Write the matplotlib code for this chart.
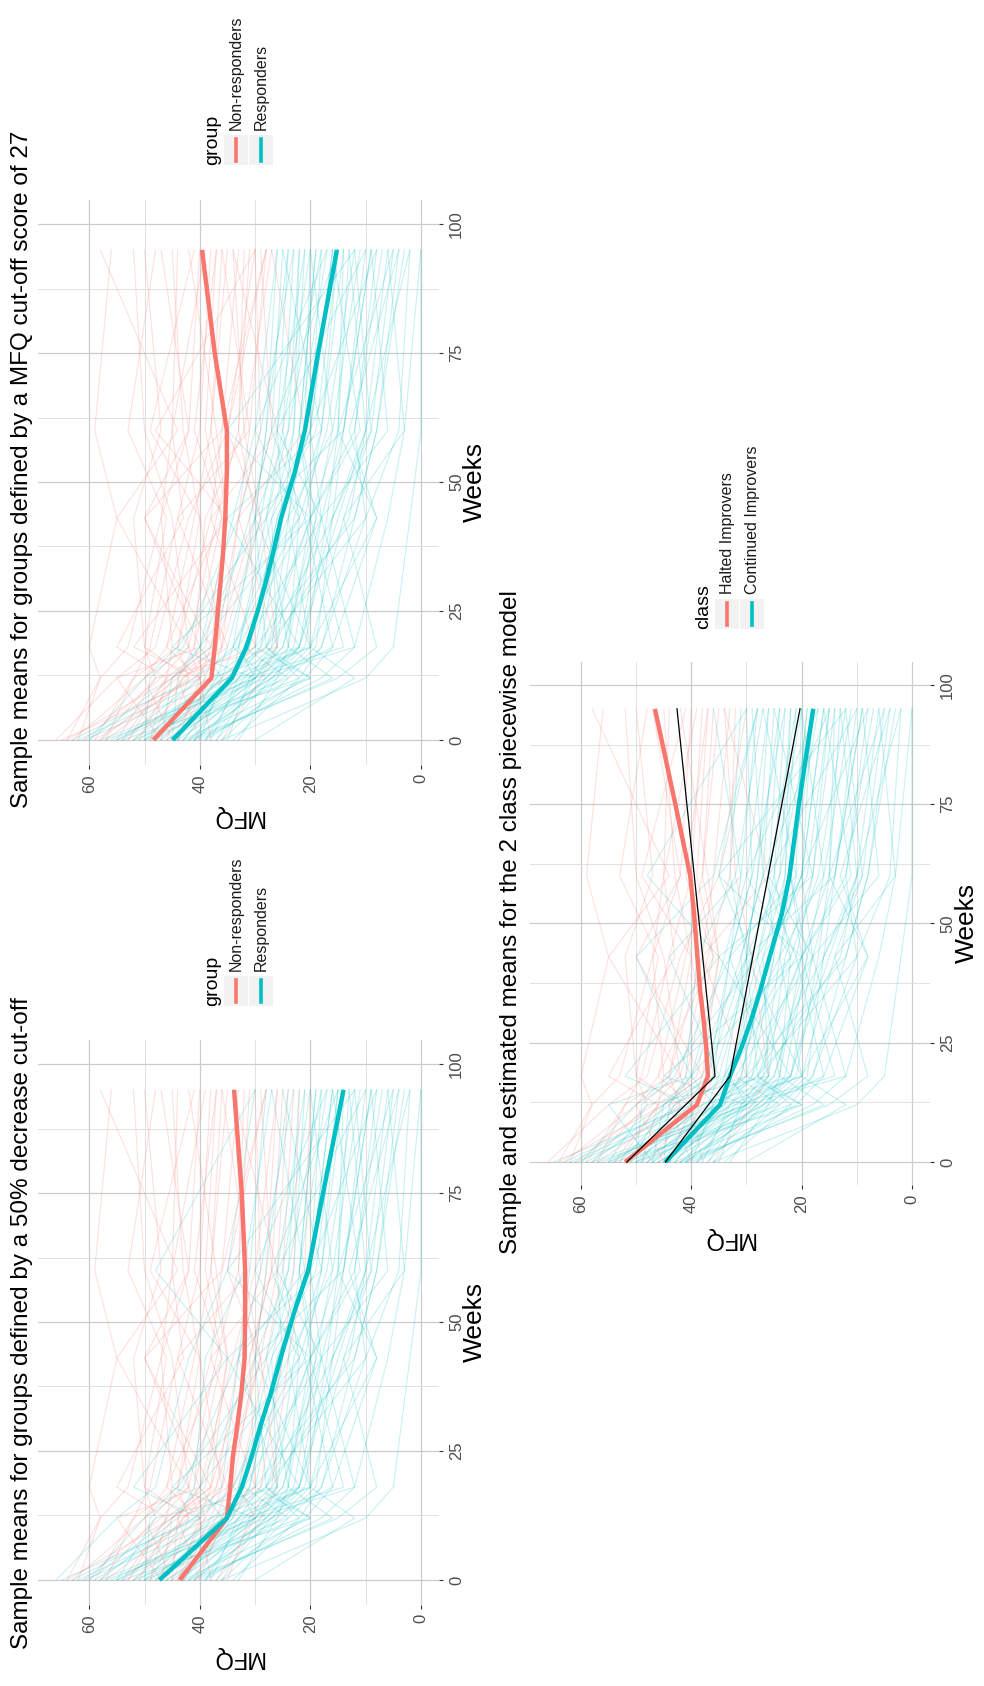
import matplotlib
matplotlib.use("Agg")
import matplotlib.pyplot as plt
from matplotlib.lines import Line2D
from matplotlib.patches import Rectangle

plt.rcParams['font.family'] = ['Liberation Sans', 'DejaVu Sans']

RED = '#F8766D'
TEAL = '#00BFC4'
W, H = 984, 1686

# individual MFQ trajectories, one row per young person, at these weeks
visit_weeks = [0, 12, 18, 43, 60, 95]
subjects = [
    [52, 40, 38, 35, 37, 42], [48, 30, 25, 18, 14, 10], [60, 45, 40, 30, 28, 24],
    [44, 38, 36, 40, 43, 45], [39, 28, 22, 15, 10, 6], [55, 35, 31, 26, 20, 16],
    [46, 42, 44, 38, 36, 33], [41, 26, 20, 24, 22, 19], [63, 50, 46, 41, 38, 35],
    [37, 30, 33, 28, 25, 23], [50, 22, 18, 12, 8, 4], [58, 48, 50, 52, 47, 50],
    [43, 33, 29, 20, 22, 17], [47, 36, 30, 31, 27, 29], [54, 40, 34, 22, 17, 12],
    [36, 24, 18, 10, 12, 8], [45, 44, 40, 34, 30, 26], [62, 38, 30, 25, 26, 21],
    [49, 46, 45, 47, 42, 40], [40, 18, 12, 6, 3, 0], [53, 43, 37, 30, 33, 31],
    [42, 30, 26, 27, 19, 15], [57, 52, 49, 44, 40, 38], [38, 33, 20, 14, 9, 5],
    [51, 35, 28, 30, 24, 22], [46, 27, 21, 17, 15, 13], [66, 55, 48, 42, 35, 30],
    [35, 31, 27, 24, 21, 20], [44, 37, 35, 29, 26, 24], [59, 41, 36, 33, 31, 28],
    [48, 39, 41, 36, 39, 37], [41, 28, 23, 19, 16, 11], [55, 30, 22, 16, 14, 9],
    [47, 45, 38, 31, 27, 25], [39, 21, 16, 21, 18, 14], [61, 47, 42, 37, 33, 32],
    [43, 34, 31, 26, 20, 18], [50, 49, 43, 33, 29, 23], [36, 29, 26, 29, 32, 34],
    [52, 37, 28, 20, 12, 7], [45, 29, 24, 22, 25, 20], [58, 44, 41, 39, 32, 27],
    [40, 36, 34, 30, 28, 26], [47, 33, 27, 13, 10, 2], [64, 58, 53, 47, 45, 44],
    [42, 25, 19, 16, 9, 12], [49, 34, 33, 27, 23, 21], [54, 46, 39, 35, 38, 36],
    [37, 27, 22, 18, 20, 16], [45, 39, 37, 33, 29, 30], [56, 32, 26, 23, 18, 15],
    [33, 26, 24, 20, 15, 14], [60, 50, 44, 28, 24, 18], [44, 40, 42, 45, 50, 52],
    [50, 31, 25, 19, 22, 19], [41, 35, 29, 25, 23, 22],
    [65, 40, 52, 35, 48, 30], [30, 12, 20, 8, 15, 5], [58, 30, 45, 20, 35, 12],
    [47, 55, 40, 50, 36, 28], [62, 58, 60, 55, 59, 56], [54, 20, 28, 10, 4, 2],
    [42, 15, 8, 14, 3, 6], [50, 38, 22, 35, 18, 25], [57, 42, 50, 46, 53, 48],
    [40, 44, 30, 38, 26, 34], [36, 10, 5, 2, 0, 0], [61, 35, 20, 30, 14, 9],
    [45, 50, 42, 55, 44, 58], [52, 24, 32, 18, 26, 10], [48, 36, 40, 22, 30, 17],
    [39, 32, 14, 20, 11, 16], [64, 45, 38, 50, 42, 47], [55, 48, 26, 33, 21, 27],
    [43, 20, 30, 12, 8, 3], [59, 52, 44, 40, 49, 41], [46, 30, 12, 18, 6, 9],
    [34, 22, 28, 16, 10, 13], [53, 46, 55, 43, 45, 39], [41, 16, 24, 28, 20, 8],
    [49, 43, 35, 44, 31, 36], [57, 28, 34, 24, 16, 20], [38, 40, 46, 36, 41, 37],
    [63, 41, 33, 21, 27, 15], [44, 27, 16, 8, 13, 4], [51, 45, 36, 29, 35, 28],
]
# group of each subject: N = non-responder, R = responder / H = halted, C = continued
grp_cut27 = ('NRRNRRNRNRRNRNRRRRNRNRNRRRNRRNNRRRRNRRNRRNRRNRRNRNRRRNRR'
             'NRRNNRRRNNRRNRRRNNRNRRNRNRNRRN')
grp_half = ('NRRNRRNRNNRNRNRRNRNRNRNRRRRNNRNRRNRNRRNRRRNRNRRNRNRRRNRN'
            'RRRNNRRRNNRRNRRRNRRNRRNRNRNRRN')
grp_class = ('HCCHCCHCHCCHCCCCCCHCCCHCCCHCCCHCCCCHCCHCCCCCHCCHCCCCCHCC'
             'CCCCHCCCHHCCHCCCHCCHCCHCCCHCCC')

# sample means
mean_weeks = [0, 12, 18, 24, 30, 36, 43, 52, 60, 75, 95]
cut27_non = [48.4, 37.9, 37.3, 36.8, 36.3, 35.8, 35.4, 35.1, 35.1, 37.3, 39.6]
cut27_resp = [44.9, 34.2, 31.6, 29.8, 28.2, 26.8, 25.3, 22.8, 21.0, 18.6, 15.2]
half_non = [43.6, 35.1, 34.5, 34.0, 33.2, 32.5, 31.9, 31.8, 31.8, 32.4, 33.8]
half_resp = [47.3, 35.1, 32.4, 30.6, 29.0, 27.2, 25.4, 22.9, 20.4, 17.7, 14.0]
cls_halted = [52.0, 39.0, 37.0, 37.3, 37.8, 38.4, 38.9, 39.5, 40.2, 42.9, 46.6]
cls_cont = [44.7, 34.8, 33.0, 30.9, 29.1, 27.5, 25.8, 23.6, 22.2, 20.5, 17.9]
# estimated means of the piecewise model
est_weeks = [0, 18, 95]
est_halted = [51.7, 35.7, 42.6]
est_cont = [44.7, 33.0, 20.3]

titles = ['Sample means for groups defined by a MFQ cut-off score of 27',
          'Sample means for groups defined by a 50% decrease cut-off',
          'Sample and estimated means for the 2 class piecewise model']


def fx(x):
    return x / W


def fy(y):
    return 1 - y / H


fig = plt.figure(figsize=(W / 100, H / 100), dpi=100)


def panel(box, groups, codes, means, est, title, tpos, wpos, mpos, leg, leg_title, leg_labels):
    x0, x1, y0, y1 = box
    ax = fig.add_axes([fx(x0), fy(y1), fx(x1) - fx(x0), fy(y0) - fy(y1)])
    ax.set_xlim(69.3, -3.3)
    ax.set_ylim(-4.75, 104.75)
    for s, g in zip(subjects, groups):
        c = RED if g == codes[0] else TEAL
        ax.plot(s, visit_weeks, color=c, alpha=0.22, lw=0.8)
    ax.plot(means[0], mean_weeks, color=RED, lw=3.2, solid_capstyle='butt')
    ax.plot(means[1], mean_weeks, color=TEAL, lw=3.2, solid_capstyle='butt')
    if est:
        ax.plot(est[0], est_weeks, color='black', lw=0.9)
        ax.plot(est[1], est_weeks, color='black', lw=0.9)
    ax.set_xticks([0, 20, 40, 60])
    ax.set_xticks([10, 30, 50], minor=True)
    ax.set_yticks([0, 25, 50, 75, 100])
    ax.set_yticks([12.5, 37.5, 62.5, 87.5], minor=True)
    ax.yaxis.tick_right()
    ax.grid(which='major', color='#CCCCCC', lw=0.9)
    ax.grid(which='minor', color='#DCDCDC', lw=0.6)
    ax.set_axisbelow(True)
    for sp in ax.spines.values():
        sp.set_visible(False)
    ax.tick_params(which='major', length=3, width=0.8, color='#333333',
                   labelsize=12, labelcolor='#4D4D4D', labelrotation=90, pad=4)
    ax.tick_params(which='minor', length=0)
    for lab in ax.get_yticklabels():
        lab.set_va('center')

    fig.text(fx(tpos[0]), fy(tpos[1]), title, rotation=90, ha='center', va='bottom', fontsize=17.5)
    fig.text(fx(wpos[0]), fy(wpos[1]), 'Weeks', rotation=90, ha='center', va='center', fontsize=19)
    fig.text(fx(mpos[0]), fy(mpos[1]), 'MFQ', rotation=180, ha='center', va='center', fontsize=17)

    # legend, turned like the rest of the picture
    lx, ly = leg
    fig.text(fx(lx - 11), fy(ly), leg_title, rotation=90, ha='center', va='bottom', fontsize=14)
    for i, (lab, c) in enumerate(zip(leg_labels, [RED, TEAL])):
        bx = lx + i * 25
        fig.add_artist(Rectangle((fx(bx), fy(ly)), fx(23.5), fy(ly - 30) - fy(ly),
                                 transform=fig.transFigure, color='#F2F2F2', lw=0))
        fig.add_artist(Line2D([fx(bx + 11.75)] * 2, [fy(ly - 4), fy(ly - 26)],
                              transform=fig.transFigure, color=c, lw=2.6))
        fig.text(fx(bx + 12.5), fy(ly - 35), lab, rotation=90, ha='center', va='bottom',
                 fontsize=11.5, color='#1A1A1A')


grp_labels = ['Non-responders', 'Responders']
panel((37.8, 439.2, 199.5, 764.5), grp_cut27, 'NR', (cut27_non, cut27_resp), None,
      titles[0], (22, 808), (475, 482), (238, 816), (224, 165), 'group', grp_labels)
panel((37.8, 439.2, 1039.5, 1604.5), grp_half, 'NR', (half_non, half_resp), None,
      titles[1], (22, 1649), (475, 1322), (238, 1657), (224, 1006), 'group', grp_labels)
panel((529.7, 930.2, 662.3, 1184.7), grp_class, 'HC', (cls_halted, cls_cont), (est_halted, est_cont),
      titles[2], (511, 1254), (967, 923), (729, 1238), (715, 629), 'class',
      ['Halted Improvers', 'Continued Improvers'])

fig.savefig('out.png', dpi=100)
